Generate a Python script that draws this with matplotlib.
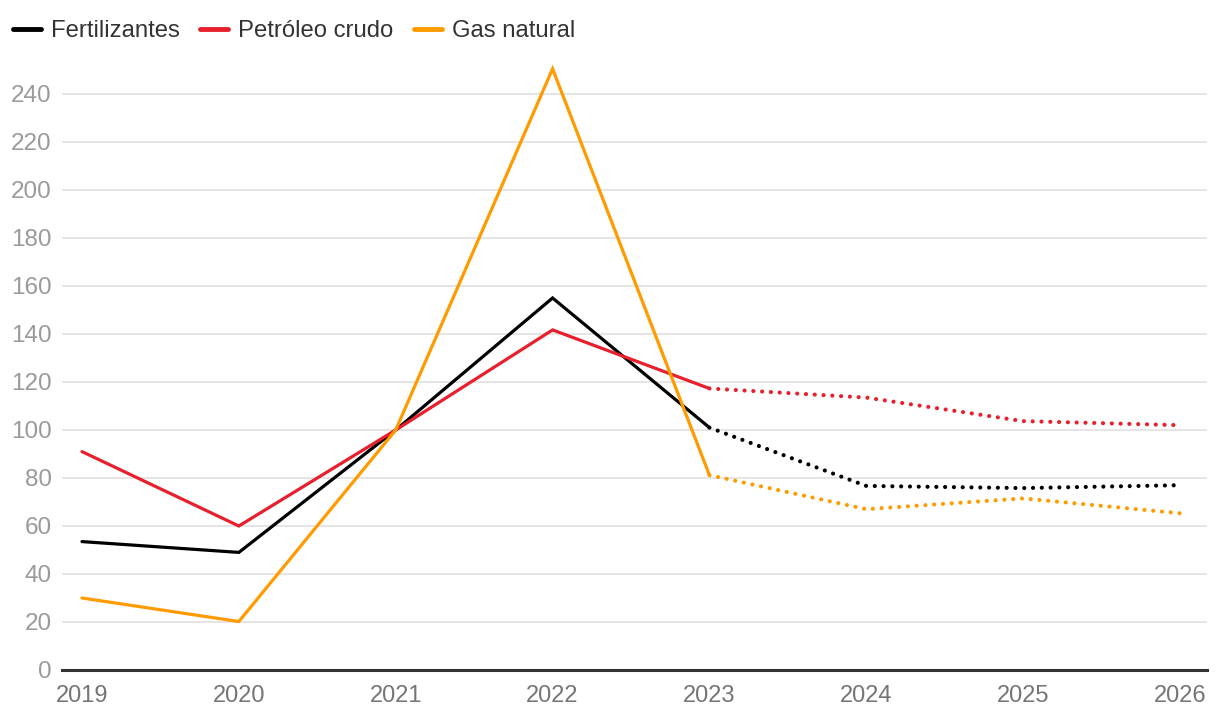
import matplotlib
matplotlib.use("Agg")
import matplotlib.pyplot as plt
from matplotlib.lines import Line2D

years = [2019, 2020, 2021, 2022, 2023, 2024, 2025, 2026]
fertilizantes = [53.5, 49, 100, 155, 101, 76.7, 75.8, 77]
petroleo = [91, 60, 100, 141.7, 117.3, 113.5, 103.7, 102]
gas = [30, 20.2, 100, 250.5, 81.2, 67, 71.5, 65.3]
split = 4  # index of 2023: solid up to here, dotted after

series = [
    ("Fertilizantes", fertilizantes, "#000000"),
    ("Petróleo crudo", petroleo, "#e8202e"),
    ("Gas natural", gas, "#ff9b00"),
]

plt.rcParams['font.family'] = ['Liberation Sans', 'DejaVu Sans']

fig = plt.figure(figsize=(12.2, 7.16), dpi=100)
ax = fig.add_axes([62/1220, 1-670/716, (1207-62)/1220, (670-58)/716])

for name, vals, col in series:
    ax.plot(years[:split+1], vals[:split+1], color=col, lw=2.3,
            solid_capstyle='round', solid_joinstyle='miter', clip_on=False, zorder=3)
    ax.plot(years[split:], vals[split:], color=col, lw=3.0,
            linestyle=(0, (0.01, 2.1)), dash_capstyle='round', clip_on=False, zorder=3)

ax.set_xlim(2019 - 20/156.86, 2026 + 27/156.86)
ax.set_ylim(0, 255)
ax.set_yticks(range(0, 241, 20))
ax.set_xticks(years)
ax.set_xticklabels([str(y) for y in years])

ax.grid(axis='y', color='#e3e3e3', lw=1.3)
ax.set_axisbelow(True)
for s in ['top', 'right', 'left']:
    ax.spines[s].set_visible(False)
ax.spines['bottom'].set_color('#333333')
ax.spines['bottom'].set_linewidth(2.2)
ax.tick_params(axis='y', length=0, pad=7.5, labelsize=17.5, labelcolor='#9a9a9a')
ax.tick_params(axis='x', length=0, pad=11, labelsize=17, labelcolor='#757575')

handles = [Line2D([0], [0], color=c, lw=3.5, solid_capstyle='round') for _, _, c in series]
fig.legend(handles, [n for n, _, _ in series], loc='upper left',
           bbox_to_anchor=(3.5/1220, 1 - 10.5/716), ncol=3, frameon=False, fontsize=17.2,
           handlelength=1.15, handletextpad=0.42, columnspacing=0.88,
           labelcolor='#333333', borderaxespad=0.0)

fig.savefig("out.png", dpi=100)
